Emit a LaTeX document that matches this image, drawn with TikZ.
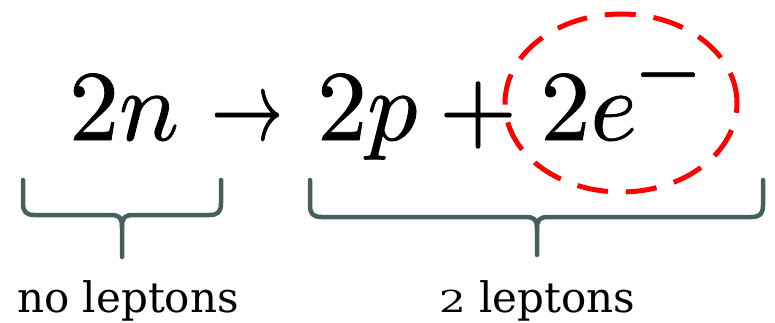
\documentclass[tikz,border=0pt]{standalone}
\usepackage{fontspec}
\usepackage{unicode-math}
\setmathfont{Latin Modern Math}[FakeBold=0.8]
\newfontfamily\lblfont{DejaVu Serif}
\usepackage{graphicx}
\usetikzlibrary{shapes.geometric}
\definecolor{bracecol}{RGB}{69,95,95}
\begin{document}
\begin{tikzpicture}[x=1pt,y=-1pt,
  eq/.style={inner sep=0pt, anchor=base, font=\fontsize{100}{120}\selectfont},
  lbl/.style={inner sep=0pt, anchor=base, font=\lblfont\fontsize{42}{50}\selectfont},
  bracestyle/.style={draw=bracecol, line width=4.5pt, line cap=round, line join=round},
  ring/.style={draw=red, line width=5pt, dash pattern=on 31pt off 18pt, ellipse, inner sep=0pt}]
\useasboundingbox (0,0) rectangle (775,322);
% equation
\node[eq] (n2) at (124,140) {$2n$};
\node[eq] (arr) at (247,140) {\scalebox{0.72}[1]{$\rightarrow$}};
\node[eq] (p2) at (368,140) {$2p$};
\node[eq] (plus) at (478,140) {$+$};
\node[eq] (e2) at (620,140) {$2e^{\raisebox{4pt}{\scalebox{0.8}[1]{$-$}}}$};
% dashed ring
\node[ring, minimum width=232pt, minimum height=178pt] (ring) at (621,103) {};
% braces
\draw[bracestyle] (23,180) -- (23,203) .. controls (23,212) and (26,215) .. (35,215) -- (110,215) .. controls (119,215) and (122,217) .. (122,227) -- (122,257);
\draw[bracestyle] (122,227) .. controls (122,217) and (125,215) .. (134,215) -- (209,215) .. controls (218,215) and (221,212) .. (221,203) -- (221,180);
\draw[bracestyle] (310,180) -- (310,205) .. controls (310,214) and (313,217) .. (322,217) -- (525,217) .. controls (534,217) and (537,219) .. (537,229) -- (537,255);
\draw[bracestyle] (537,229) .. controls (537,219) and (540,217) .. (549,217) -- (751,217) .. controls (760,217) and (763,214) .. (763,205) -- (763,180);
% labels
\node[lbl] (l1) at (128,312) {no leptons};
\node[lbl] (l2) at (537,312) {\scalebox{1}[0.72]{2} leptons};
\end{tikzpicture}
\end{document}
